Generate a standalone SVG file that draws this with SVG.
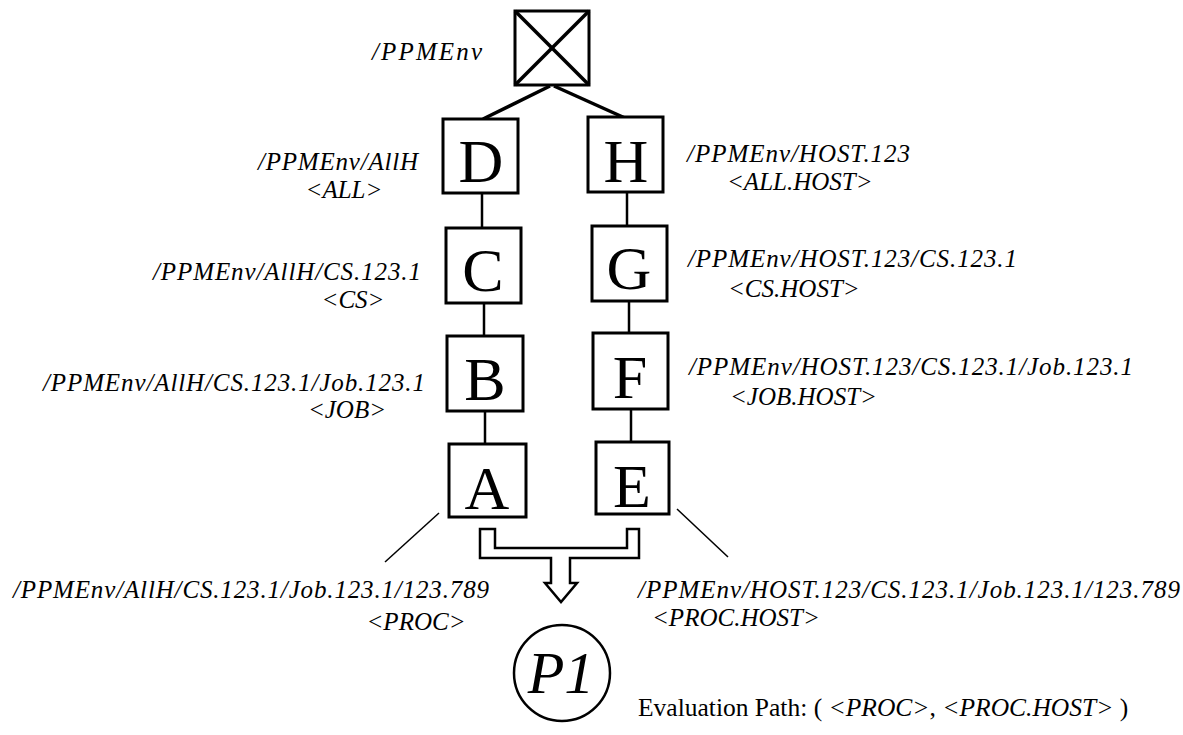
<svg xmlns="http://www.w3.org/2000/svg" width="1183" height="735" viewBox="0 0 1183 735">
<style>
.box{fill:#fff;stroke:#000;stroke-width:3}
.ltr{font-family:"Liberation Serif","Times New Roman",serif;font-size:62px;text-anchor:middle;fill:#000}
.lbl{font-family:"Liberation Serif","Times New Roman",serif;font-style:italic;font-size:25px;fill:#000}
.tag{font-family:"Liberation Serif","Times New Roman",serif;font-style:italic;font-size:25px;fill:#000}
.thick{stroke:#000;stroke-width:3.5;fill:none}
.thin{stroke:#000;stroke-width:2.5;fill:none}
.lead{stroke:#000;stroke-width:1.5;fill:none}
</style>
<rect width="1183" height="735" fill="#fff"/>
<g id="connectors">
<line class="thick" x1="550" y1="86" x2="483" y2="119"/>
<line class="thick" x1="554" y1="86" x2="625" y2="118"/>
<line class="thin" x1="482" y1="193" x2="482" y2="228"/>
<line class="thin" x1="484" y1="303" x2="484" y2="336"/>
<line class="thin" x1="485" y1="411" x2="485" y2="444"/>
<line class="thin" x1="627" y1="192" x2="627" y2="226"/>
<line class="thin" x1="629" y1="301" x2="629" y2="333"/>
<line class="thin" x1="631" y1="409" x2="631" y2="442"/>
<line class="lead" x1="439" y1="513" x2="385" y2="562"/>
<line class="lead" x1="677" y1="509" x2="728" y2="557"/>
<path class="thin" d="M480,529 H495 V548 H627 V529 H639 V558 H570 V583 H577 L561,602 L545,583 H551 V558 H480 Z"/>
</g>
<g id="root">
<rect class="box" x="515" y="11" width="74" height="74"/>
<line class="thick" x1="515" y1="11" x2="589" y2="85"/>
<line class="thick" x1="589" y1="11" x2="515" y2="85"/>
<text class="lbl" x="372" y="60" textLength="110" lengthAdjust="spacing">/PPMEnv</text>
</g>
<g id="nodeD">
<rect class="box" x="443" y="119" width="75" height="74"/>
<text class="ltr" x="481" y="182">D</text>
<text class="lbl" x="258" y="170" textLength="160" lengthAdjust="spacing">/PPMEnv/AllH</text>
<text class="tag" x="344" y="198" text-anchor="middle">&lt;ALL&gt;</text>
</g>
<g id="nodeC">
<rect class="box" x="446" y="228" width="75" height="75"/>
<text class="ltr" x="483" y="291">C</text>
<text class="lbl" x="153" y="280" textLength="268" lengthAdjust="spacing">/PPMEnv/AllH/CS.123.1</text>
<text class="tag" x="353" y="308" text-anchor="middle">&lt;CS&gt;</text>
</g>
<g id="nodeB">
<rect class="box" x="447" y="336" width="76" height="75"/>
<text class="ltr" x="485" y="400">B</text>
<text class="lbl" x="43" y="391" textLength="382" lengthAdjust="spacing">/PPMEnv/AllH/CS.123.1/Job.123.1</text>
<text class="tag" x="347" y="418" text-anchor="middle">&lt;JOB&gt;</text>
</g>
<g id="nodeA">
<rect class="box" x="449" y="444" width="77" height="73"/>
<text class="ltr" x="487" y="509">A</text>
<text class="lbl" x="13" y="598" textLength="476" lengthAdjust="spacing">/PPMEnv/AllH/CS.123.1/Job.123.1/123.789</text>
<text class="tag" x="416" y="630" text-anchor="middle">&lt;PROC&gt;</text>
</g>
<g id="nodeH">
<rect class="box" x="588" y="117" width="75" height="75"/>
<text class="ltr" x="626" y="182">H</text>
<text class="lbl" x="687" y="162" textLength="223" lengthAdjust="spacing">/PPMEnv/HOST.123</text>
<text class="tag" x="727" y="190">&lt;ALL.HOST&gt;</text>
</g>
<g id="nodeG">
<rect class="box" x="592" y="226" width="75" height="75"/>
<text class="ltr" x="629" y="289">G</text>
<text class="lbl" x="688" y="267" textLength="329" lengthAdjust="spacing">/PPMEnv/HOST.123/CS.123.1</text>
<text class="tag" x="728" y="297">&lt;CS.HOST&gt;</text>
</g>
<g id="nodeF">
<rect class="box" x="593" y="333" width="75" height="76"/>
<text class="ltr" x="630" y="398">F</text>
<text class="lbl" x="689" y="375" textLength="444" lengthAdjust="spacing">/PPMEnv/HOST.123/CS.123.1/Job.123.1</text>
<text class="tag" x="730" y="405">&lt;JOB.HOST&gt;</text>
</g>
<g id="nodeE">
<rect class="box" x="596" y="442" width="73" height="72"/>
<text class="ltr" x="632" y="507">E</text>
<text class="lbl" x="638" y="598" textLength="542" lengthAdjust="spacing">/PPMEnv/HOST.123/CS.123.1/Job.123.1/123.789</text>
<text class="tag" x="652" y="626">&lt;PROC.HOST&gt;</text>
</g>
<g id="nodeP1">
<circle cx="562" cy="673" r="48" fill="#fff" stroke="#000" stroke-width="2.5"/>
<text x="561" y="693" text-anchor="middle" style="font-family:'Liberation Serif','Times New Roman',serif;font-style:italic;font-size:60px">P1</text>
</g>
<g id="caption">
<text x="638" y="716" style="font-family:'Liberation Serif','Times New Roman',serif;font-size:25.5px">Evaluation Path: ( <tspan font-style="italic">&lt;PROC&gt;</tspan>, <tspan font-style="italic">&lt;PROC.HOST&gt;</tspan> )</text>
</g>
</svg>
